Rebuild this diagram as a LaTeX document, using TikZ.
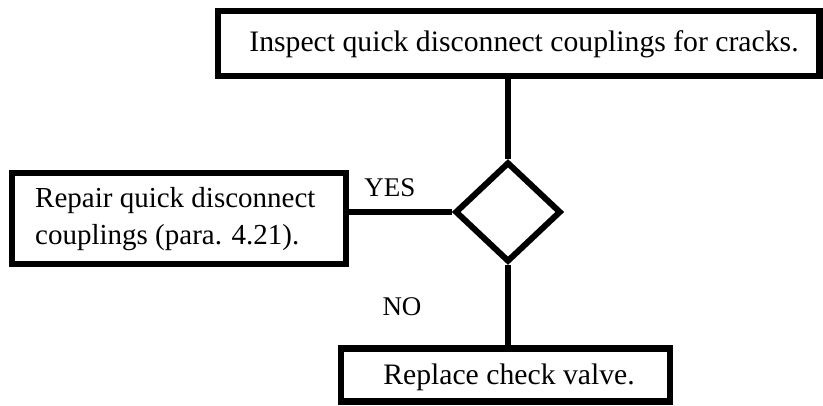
\documentclass[tikz,border=0pt]{standalone}
\usepackage{fontspec}
\setmainfont{Liberation Serif}
\usetikzlibrary{shapes.geometric}
\begin{document}
\begin{tikzpicture}[x=1pt,y=-1pt,
  boxfont/.style={font=\fontsize{29.7}{37}\selectfont},
  box/.style={draw, line width=6.5pt, inner sep=0pt, boxfont},
  lbl/.style={inner sep=0pt, font=\fontsize{27}{32}\selectfont},
  conn/.style={line width=6pt}]
\useasboundingbox (0,0) rectangle (823,405);
\node[box, minimum width=601.5pt, minimum height=65pt] (top) at (518.75,43.5) {};
\node[inner sep=0pt, boxfont] (toptext) at (524,44) {Inspect quick disconnect couplings for cracks.};
\node[box, minimum width=334pt, minimum height=91pt] (left) at (179,218.5) {};
\node[inner sep=0pt, font=\fontsize{29}{37}\selectfont, align=left, anchor=west] (lefttext) at (35,219.5) {Repair quick disconnect\\couplings (para. 4.21).};
\node[box, minimum width=329pt, minimum height=53pt] (bot) at (505.5,375) {};
\node[inner sep=0pt, boxfont] (bottext) at (509,377) {Replace check valve.};
\node[draw, diamond, line width=6pt, minimum width=106pt, minimum height=100pt, inner sep=0pt] (dec) at (508,212) {};
\node[lbl] (yes) at (390,188) {YES};
\node[lbl] (no) at (402,307) {NO};
\draw[conn] (top.south -| dec.north) -- (dec.north);
\draw[conn] (dec.west) -- (dec.west -| left.east);
\draw[conn] (dec.south) -- (dec.south |- bot.north);
\end{tikzpicture}
\end{document}
